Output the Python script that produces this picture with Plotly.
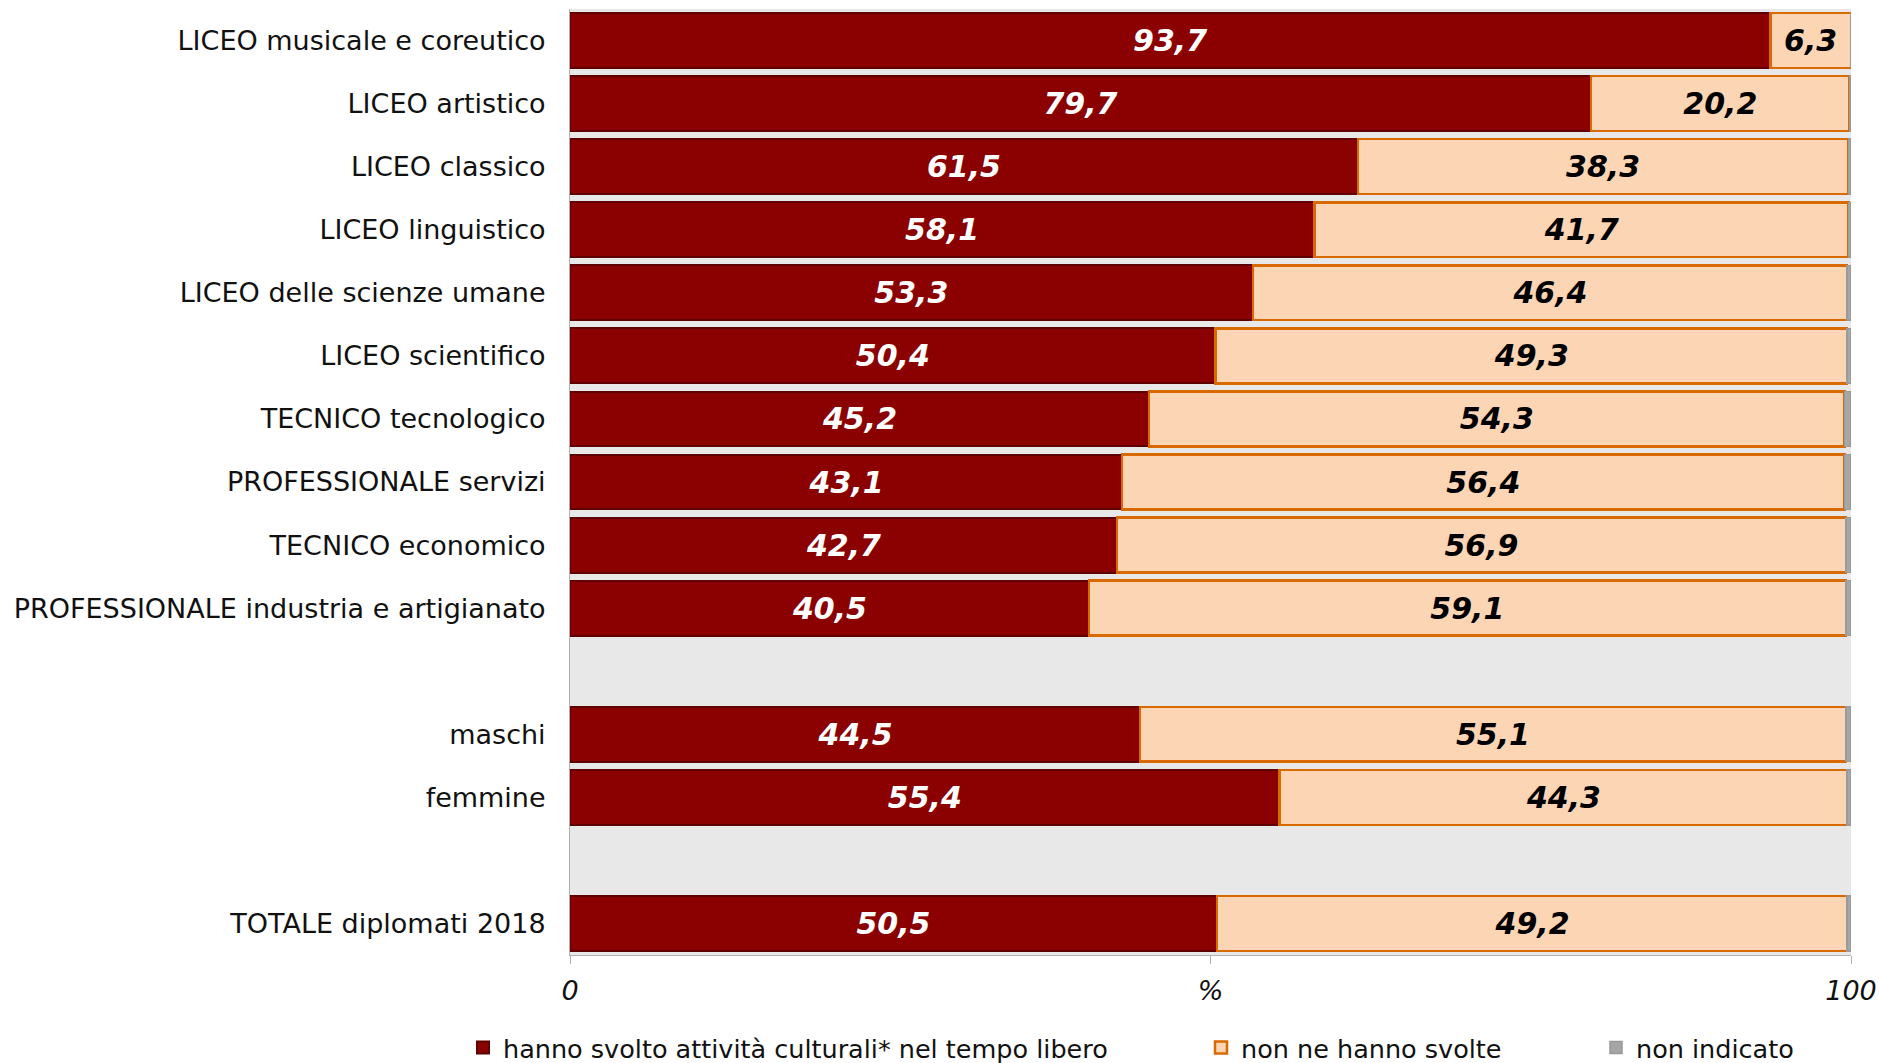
import plotly.graph_objects as go

categories = [
    "LICEO musicale e coreutico", "LICEO artistico", "LICEO classico",
    "LICEO linguistico", "LICEO delle scienze umane", "LICEO scientifico",
    "TECNICO tecnologico", "PROFESSIONALE servizi", "TECNICO economico",
    "PROFESSIONALE industria e artigianato", " ", "maschi", "femmine", "  ",
    "TOTALE diplomati 2018",
]
svolto = [93.7, 79.7, 61.5, 58.1, 53.3, 50.4, 45.2, 43.1, 42.7, 40.5, None, 44.5, 55.4, None, 50.5]
non_svolte = [6.3, 20.2, 38.3, 41.7, 46.4, 49.3, 54.3, 56.4, 56.9, 59.1, None, 55.1, 44.3, None, 49.2]
non_indicato = [0.0, 0.1, 0.2, 0.2, 0.3, 0.3, 0.5, 0.5, 0.4, 0.4, None, 0.4, 0.3, None, 0.3]
series_names = ["hanno svolto attività culturali* nel tempo libero", "non ne hanno svolte", "non indicato"]
tick_vals = [0, 50, 100]
tick_text = ["0", "%", "100"]

FONT = "DejaVu Sans"
W, H = 1879, 1063

def fmt(v):
    return "" if v is None else f"{v:.1f}".replace(".", ",")

fig = go.Figure()
fig.add_trace(go.Bar(
    y=categories, x=svolto, orientation="h", name=series_names[0],
    marker=dict(color="#8B0000", line=dict(color="#5E0000", width=2)),
    text=[fmt(v) for v in svolto], textposition="inside", insidetextanchor="middle",
    textfont=dict(family=FONT, size=30, color="white", weight="bold", style="italic"),
    legend="legend", hoverinfo="skip",
))
fig.add_trace(go.Bar(
    y=categories, x=non_svolte, orientation="h", name=series_names[1],
    marker=dict(color="#FCD5B5", line=dict(color="#D86A00", width=2.5)),
    text=[fmt(v) for v in non_svolte], textposition="inside", insidetextanchor="middle",
    textfont=dict(family=FONT, size=30, color="black", weight="bold", style="italic"),
    legend="legend2", hoverinfo="skip",
))
fig.add_trace(go.Bar(
    y=categories, x=non_indicato, orientation="h", name=series_names[2],
    marker=dict(color="#A6A6A6", line=dict(color="#9A9A9A", width=1.5)),
    textposition="none", legend="legend3", hoverinfo="skip",
))

legend_common = dict(orientation="h", xref="container", yref="container",
                     yanchor="middle", xanchor="left", bgcolor="rgba(0,0,0,0)",
                     font=dict(family=FONT, size=25.5, color="#111"))
fig.update_layout(
    width=W, height=H, autosize=False,
    barmode="stack", bargap=0.13,
    paper_bgcolor="white", plot_bgcolor="#E8E8E8",
    margin=dict(l=570, r=28, t=9, b=108),
    font=dict(family=FONT, size=27, color="#111"),
    showlegend=True,
    legend=dict(x=463 / W, y=15 / H, **legend_common),
    legend2=dict(x=1201 / W, y=15 / H, **legend_common),
    legend3=dict(x=1596 / W, y=15 / H, **legend_common),
    xaxis=dict(range=[0, 100], tickvals=tick_vals, ticktext=tick_text,
               tickfont=dict(family=FONT, size=27, style="italic", color="#111"),
               showgrid=False, zeroline=False, showline=True, linecolor="#B0B0B0",
               linewidth=1, ticks="outside", ticklen=8, tickcolor="#B0B0B0",
               ticklabelstandoff=4, automargin=False),
    yaxis=dict(categoryorder="array", categoryarray=categories, autorange=False,
               range=[len(categories) - 0.5, -0.5], showgrid=False,
               showline=True, linecolor="#B0B0B0", linewidth=1,
               ticks="", ticklabelstandoff=18, automargin=False,
               tickfont=dict(family=FONT, size=27, color="#111")),
    uniformtext=dict(minsize=10, mode="show"),
)
fig.write_html("out.html",
               config={"responsive": False, "displayModeBar": False},
               post_script="document.body.style.margin='0';document.body.style.overflow='hidden';")
